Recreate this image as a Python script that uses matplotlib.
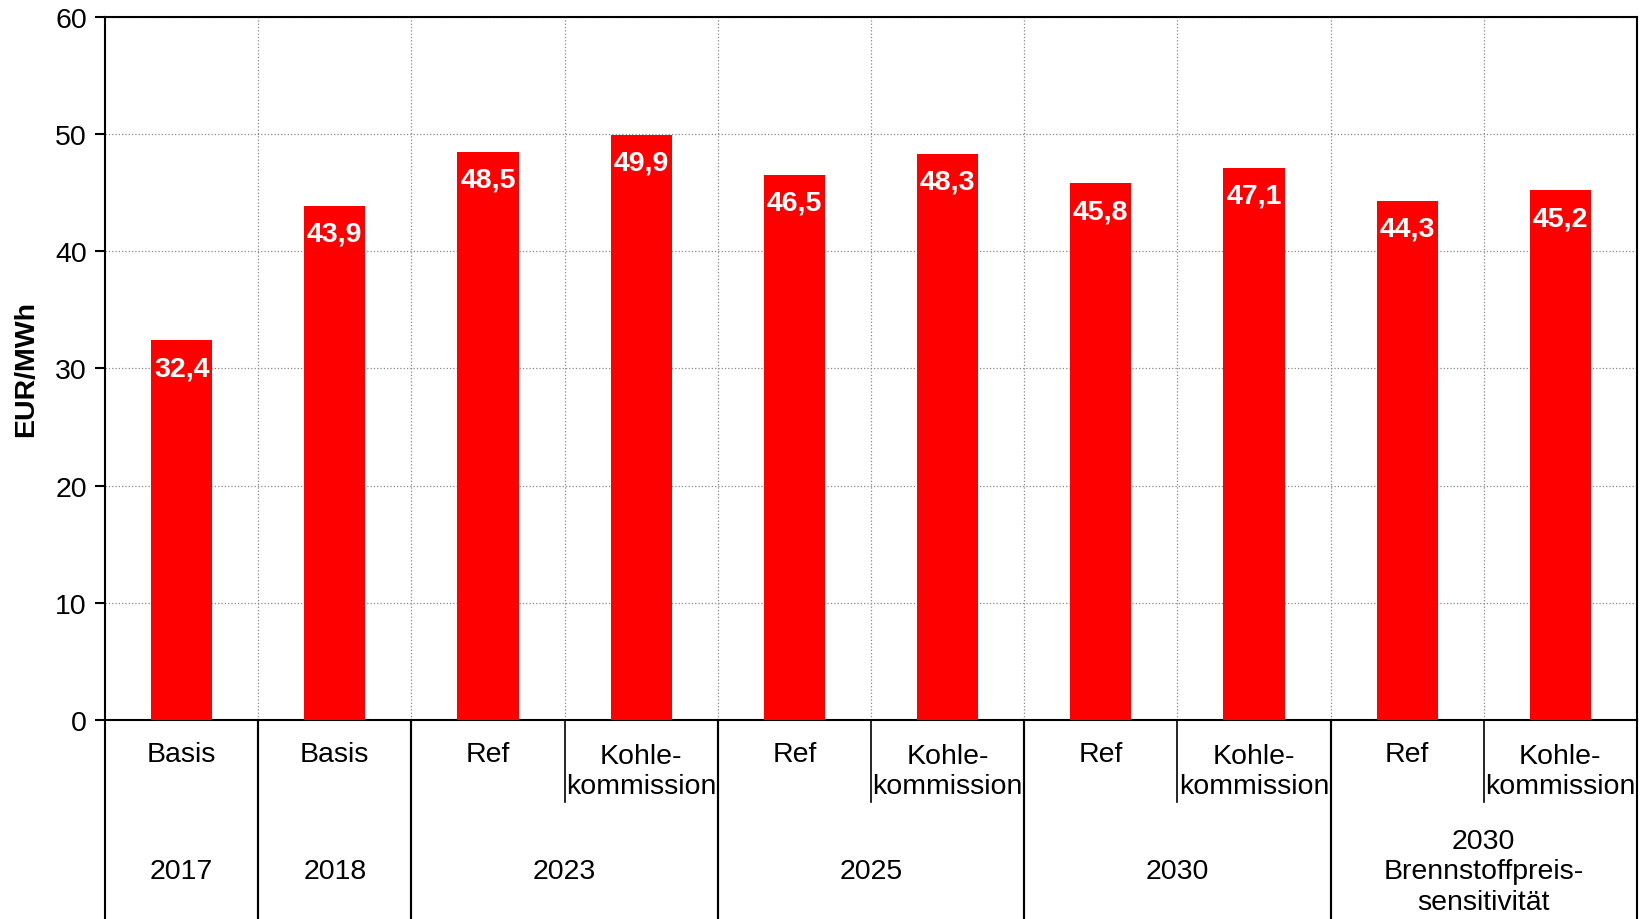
import matplotlib.pyplot as plt

plt.rcParams['font.family'] = ['Liberation Sans', 'DejaVu Sans']

values = [32.4, 43.9, 48.5, 49.9, 46.5, 48.3, 45.8, 47.1, 44.3, 45.2]
scenarios = ['Basis', 'Basis', 'Ref', 'Kohle-\nkommission', 'Ref', 'Kohle-\nkommission',
             'Ref', 'Kohle-\nkommission', 'Ref', 'Kohle-\nkommission']
groups = ['2017', '2018', '2023', '2025', '2030', '2030\nBrennstoffpreis-\nsensitivität']
group_sizes = [1, 1, 2, 2, 2, 2]

fs = 20.5
fig = plt.figure(figsize=(16.46, 9.2), dpi=100)
ax = fig.add_axes([0.0638, 0.2163, 0.9307, 0.7643])

x = list(range(len(values)))
bars = ax.bar(x, values, width=0.4, color='#ff0000', zorder=3)

for xi, v in zip(x, values):
    ax.annotate(f'{v:.1f}'.replace('.', ','), (xi, v), xytext=(0, -20),
                textcoords='offset points', ha='center', va='center',
                color='white', fontsize=fs, fontweight='bold', zorder=4)

ax.set_xlim(-0.5, len(values) - 0.5)
ax.set_ylim(0, 60)
ax.set_yticks(range(0, 61, 10))
ax.tick_params(axis='y', labelsize=fs, length=7, width=1.5, pad=6)
ax.set_xticks([])
ax.set_ylabel('EUR/MWh', fontsize=fs, fontweight='bold')
ax.yaxis.set_label_coords(-0.043, 0.5)

for s in ax.spines.values():
    s.set_linewidth(1.5)

# grid
ax.grid(axis='y', color='#888888', linestyle=':', linewidth=0.9, zorder=0)
for b in range(1, len(values)):
    ax.axvline(b - 0.5, color='#888888', linestyle=':', linewidth=0.9, zorder=0)

# category axis below
tr = ax.get_xaxis_transform()
line_sp = 0.0485
for xi, lab in enumerate(scenarios):
    n = lab.count('\n')
    ax.text(xi, -0.0482 - n * line_sp / 2, lab, transform=tr, ha='center', va='center',
            fontsize=fs, linespacing=1.22)

start = 0
for g, size in zip(groups, group_sizes):
    left = start - 0.5
    right = start + size - 0.5
    ax.plot([left, left], [0, -0.29], transform=tr, color='black', lw=1.5, clip_on=False)
    ax.plot([right, right], [0, -0.29], transform=tr, color='black', lw=1.5, clip_on=False)
    for k in range(1, size):
        ax.plot([left + k, left + k], [0, -0.116], transform=tr, color='black', lw=1.2, clip_on=False)
    ax.text((left + right) / 2, -0.215, g, transform=tr, ha='center', va='center',
            fontsize=fs, linespacing=1.22)
    start += size

fig.savefig('out.png', dpi=100)
